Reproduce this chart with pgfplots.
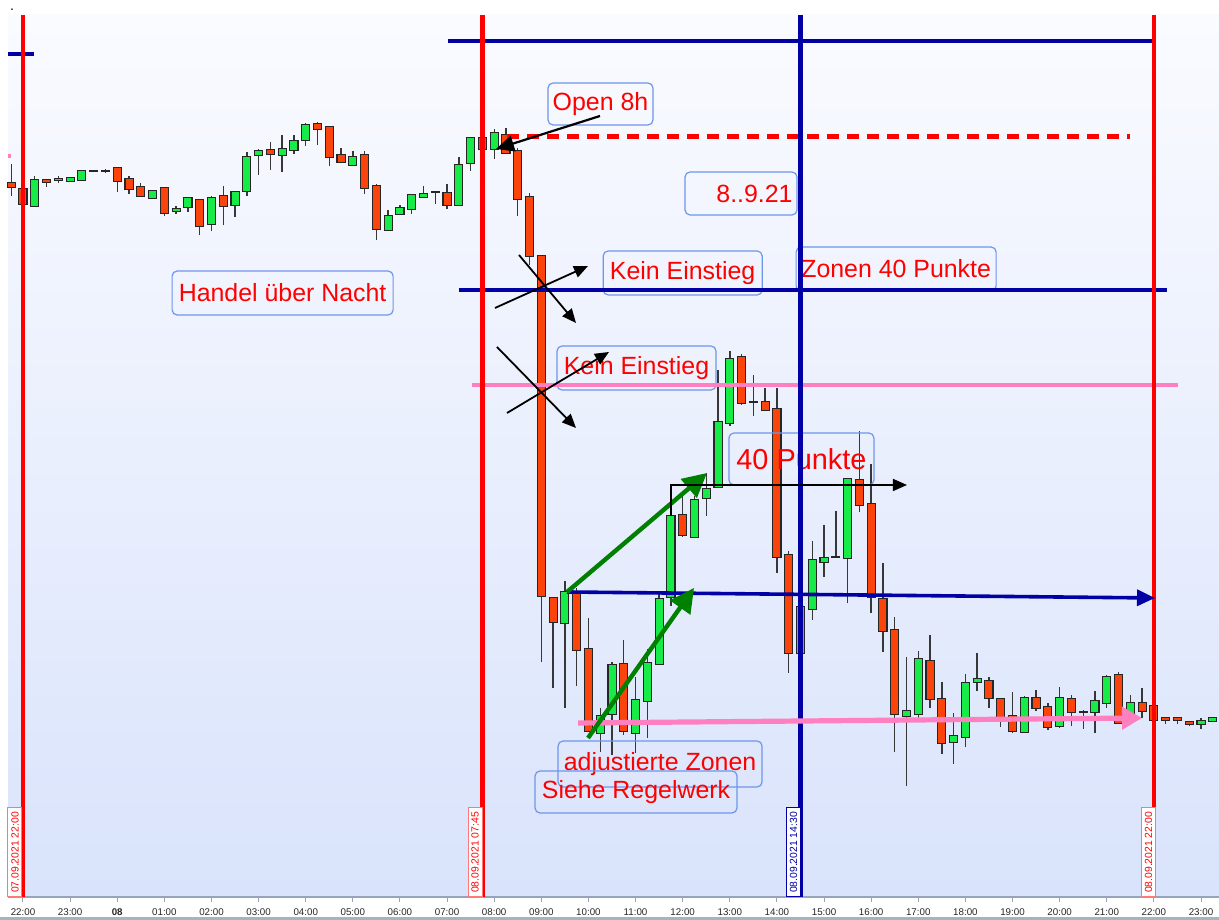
\documentclass[border=0pt]{standalone}
\usepackage{pgfplots}
\pgfplotsset{compat=1.18}
\usepackage{pgfplotstable}
\usepackage{fontspec}
\setmainfont{Liberation Sans}
\usetikzlibrary{arrows.meta}
\definecolor{cred}{RGB}{250,68,12}
\definecolor{cgreen}{RGB}{22,235,72}
\definecolor{wick}{RGB}{55,55,55}
\definecolor{lred}{RGB}{255,0,0}
\definecolor{lblue}{RGB}{0,0,165}
\definecolor{lpink}{RGB}{255,128,192}
\definecolor{boxc}{RGB}{110,150,235}
\definecolor{darkg}{RGB}{0,128,0}
\definecolor{bgtop}{RGB}{250,251,255}
\definecolor{bgbot}{RGB}{217,227,251}
\definecolor{axc}{RGB}{150,165,185}
\definecolor{dredb}{RGB}{255,120,120}
\definecolor{barc}{RGB}{165,180,195}

% candles: t = hours since 07.09.2021 00:00, o h l c = chart height (pixels from top)
\pgfplotstableread{
t o h l c
22.25 206 176 207 180
22.75 180 176 183 179
23.0 181 178 182 178
23.25 180 170 181 171
23.5 171 170 172 171
23.75 171 169 173 171
24.75 198 191 199 191
25.25 211 206 214 209
25.5 207 198 212 198
26.0 224 196 231 198
26.5 205 192 217 192
26.75 191 152 196 157
27.0 155 149 175 151
27.5 155 135 172 149
27.75 150 135 154 141
28.0 140 123 146 125
29.0 165 151 166 157
29.75 230 210 231 216
30.0 214 205 215 208
30.25 209 195 214 195
30.5 197 186 198 194
30.75 192 191 204 192
31.25 205 157 206 165
31.5 163 137 171 138
32.0 149 129 159 133
33.5 623 581 708 592
34.25 733 708 752 716
34.5 714 662 755 665
35.0 733 677 753 700
35.25 701 649 738 663
35.5 664 594 665 599
35.75 597 515 606 516
36.25 537 496 538 500
36.5 498 473 516 489
36.75 487 370 488 422
37.0 423 351 426 359
37.5 402 375 416 402
38.5 653 600 655 607
38.75 609 541 620 560
39.0 562 525 577 558
39.25 557 511 558 557
39.5 558 478 603 479
40.75 716 657 786 711
41.0 714 651 719 659
41.75 742 713 764 736
42.0 737 674 747 683
42.25 682 653 691 679
43.25 732 696 733 698
44.0 726 687 728 698
44.5 712 710 729 712
44.75 712 691 733 701
45.0 703 675 708 677
45.5 715 695 716 703
47.0 724 718 729 721
47.25 721 718 722 718
}\greentab

\pgfplotstableread{
t o h l c
21.75 183 164 196 187
22.0 189 188 205 204
22.5 180 179 187 182
24.0 168 167 192 181
24.25 179 176 194 189
24.5 187 183 197 196
25.0 188 187 216 213
25.75 200 199 235 226
26.25 196 186 225 206
27.25 150 142 170 154
28.25 124 122 145 129
28.5 127 126 166 157
28.75 155 148 162 162
29.25 155 151 194 188
29.5 186 184 240 229
31.0 193 184 209 205
31.75 138 137 150 149
32.25 135 128 154 153
32.5 151 148 216 199
32.75 197 193 265 256
33.0 256 255 662 596
33.25 598 597 688 622
33.75 592 588 686 650
34.0 649 618 731 731
34.75 664 640 735 731
36.0 515 496 537 535
37.25 357 354 405 403
37.75 402 388 411 410
38.0 409 388 573 557
38.25 555 551 673 653
39.75 480 431 512 505
40.0 504 464 613 597
40.25 599 563 652 631
40.5 630 617 752 714
41.25 661 635 708 699
41.5 699 682 754 743
42.5 681 677 708 698
42.75 699 698 727 717
43.0 716 692 733 731
43.5 698 690 711 708
43.75 707 703 730 727
44.25 699 695 726 712
45.25 675 672 723 723
45.75 703 688 718 711
46.0 706 705 720 720
46.25 718 718 724 720
46.5 718 718 724 720
46.75 722 722 726 724
}\redtab

\tikzset{
  lbl/.style={draw=boxc, line width=0.6bp, rounded corners=2.5bp, text=lred,
    font=\fontsize{12.5}{15}\selectfont, inner sep=0pt},
  blk/.style={black, line width=0.9bp, -{Triangle[length=7bp,width=6bp]}},
  datel/.style={rotate=90, fill=white, line width=0.5bp, inner sep=0pt,
    minimum width=44.5bp, minimum height=7bp, font=\fontsize{5.2}{6}\selectfont},
}
\pgfplotsset{
  candle/.style n args={2}{draw=none, mark=none, forget plot,
    error bars/.cd, y dir=both, y explicit, error mark=none,
    error bar style={line width=#1, draw=#2}},
}

\begin{document}
\begin{tikzpicture}
\begin{axis}[
  scale only axis, width=605.5bp, height=441bp,
  xmin=21.682, xmax=47.382, ymin=-897, ymax=-15,
  axis x line*=bottom, axis y line=none,
  axis line style={draw=axc, line width=0.7bp},
  xtick={22,...,47},
  xticklabels={22:00,23:00,\textbf{08},01:00,02:00,03:00,04:00,05:00,06:00,07:00,08:00,09:00,10:00,11:00,12:00,13:00,14:00,15:00,16:00,17:00,18:00,19:00,20:00,21:00,22:00,23:00},
  x tick label style={font=\fontsize{4.9}{5}\selectfont, text=black!85},
  tick align=outside, major tick length=2.5bp,
  xtick style={draw=axc, line width=0.5bp},
  ytick=\empty,
  axis background/.style={shade, top color=bgtop, bottom color=bgbot},
  clip=false,
]
% wicks
\addplot[candle={0.7bp}{wick}]
  table[x=t, y expr={-(\thisrow{h}+\thisrow{l})/2}, y error expr={(\thisrow{l}-\thisrow{h})/2}] {\greentab};
\addplot[candle={0.7bp}{wick}]
  table[x=t, y expr={-(\thisrow{h}+\thisrow{l})/2}, y error expr={(\thisrow{l}-\thisrow{h})/2}] {\redtab};
% body borders
\addplot[candle={4.6bp}{black!85}]
  table[x=t, y expr={-(\thisrow{o}+\thisrow{c})/2}, y error expr={abs(\thisrow{o}-\thisrow{c})/2+1}] {\greentab};
\addplot[candle={4.6bp}{black!85}]
  table[x=t, y expr={-(\thisrow{o}+\thisrow{c})/2}, y error expr={abs(\thisrow{o}-\thisrow{c})/2+1}] {\redtab};
% bodies
\addplot[candle={3.5bp}{cgreen}]
  table[x=t, y expr={-(\thisrow{o}+\thisrow{c})/2}, y error expr={abs(\thisrow{o}-\thisrow{c})/2}] {\greentab};
\addplot[candle={3.5bp}{cred}]
  table[x=t, y expr={-(\thisrow{o}+\thisrow{c})/2}, y error expr={abs(\thisrow{o}-\thisrow{c})/2}] {\redtab};

% text boxes
\node[lbl, minimum width=52.5bp, minimum height=21bp] at (axis cs:34.256,-104) {Open 8h};
\node[lbl, minimum width=56bp, minimum height=21.5bp] at (axis cs:37.238,-193.5) {};
\node[text=lred, font=\fontsize{12.5}{15}\selectfont, anchor=east, inner sep=0pt] at (axis cs:38.341,-193.5) {8..9.21};
\node[lbl, minimum width=79.5bp, minimum height=22bp] at (axis cs:36.00,-273) {Kein Einstieg};
\node[lbl, minimum width=100bp, minimum height=22bp] at (axis cs:40.53,-269) {Zonen 40 Punkte};
\node[lbl, minimum width=110.5bp, minimum height=22bp] at (axis cs:27.51,-293) {Handel über Nacht};
\node[lbl, minimum width=79.5bp, minimum height=22bp] at (axis cs:35.02,-368) {Kein Einstieg};
\node[lbl, minimum width=72.5bp, minimum height=26bp, font=\fontsize{14.5}{17}\selectfont] at (axis cs:38.52,-459) {40 Punkte};
\node[lbl, minimum width=102bp, minimum height=23bp] at (axis cs:35.52,-764) {adjustierte Zonen};
\node[lbl, minimum width=101bp, minimum height=21bp] at (axis cs:35.01,-792) {Siehe Regelwerk};

% horizontal lines
\draw[lblue, line width=1.8bp] (axis cs:31.019,-41) -- (axis cs:46.024,-41);
\draw[lblue, line width=1.8bp] (axis cs:21.682,-54) -- (axis cs:22.234,-54);
\draw[lblue, line width=1.8bp] (axis cs:31.253,-290) -- (axis cs:46.278,-290);
\draw[lpink, line width=1.8bp] (axis cs:31.529,-385) -- (axis cs:46.512,-385);
\draw[lpink, line width=2bp] (axis cs:21.682,-156) -- (axis cs:21.745,-156);
\draw[lred, line width=2.5bp, dash pattern=on 6bp off 4bp] (axis cs:32.272,-137) -- (axis cs:45.493,-137);

% vertical lines
\draw[lred, line width=2.3bp] (axis cs:22,-15) -- (axis cs:22,-897);
\draw[lred, line width=2.3bp] (axis cs:31.75,-15) -- (axis cs:31.75,-897);
\draw[lblue, line width=2.2bp] (axis cs:38.5,-15) -- (axis cs:38.5,-897);
\draw[lred, line width=2.3bp] (axis cs:46,-15) -- (axis cs:46,-897);

% date labels
\node[datel, draw=dredb, text=lred] at (axis cs:21.830,-852.5) {07.09.2021 22:00};
\node[datel, draw=dredb, text=lred] at (axis cs:31.593,-852.5) {08.09.2021 07:45};
\node[datel, draw=lblue, text=lblue] at (axis cs:38.352,-852.5) {08.09.2021 14:30};
\node[datel, draw=dredb, text=lred] at (axis cs:45.886,-852.5) {08.09.2021 22:00};

% arrows
\draw[lblue, line width=1.8bp, -{Triangle[length=9bp,width=8bp]}] (axis cs:33.545,-592) -- (axis cs:46.024,-598);
\draw[lpink, line width=2.6bp, -{Triangle[length=10bp,width=11bp]}] (axis cs:33.779,-723) -- (axis cs:45.748,-718);
\draw[darkg, line width=2.2bp, -{Triangle[length=12bp,width=12bp]}] (axis cs:33.545,-592) -- (axis cs:36.516,-473);
\draw[darkg, line width=2.2bp, -{Triangle[length=12bp,width=12bp]}] (axis cs:33.991,-738) -- (axis cs:36.240,-588);
\draw[blk] (axis cs:32.526,-255) -- (axis cs:33.736,-323);
\draw[blk] (axis cs:32.017,-308) -- (axis cs:33.991,-266);
\draw[blk] (axis cs:32.059,-347) -- (axis cs:33.736,-428);
\draw[blk] (axis cs:32.272,-413) -- (axis cs:34.436,-352);
\draw[black, line width=1.1bp, -{Triangle[length=9bp,width=8bp]}] (axis cs:34.245,-116) -- (axis cs:32.038,-149);
\draw[black, line width=0.8bp, -{Triangle[length=7bp,width=6bp]}] (axis cs:35.752,-516) -- (axis cs:35.752,-485) -- (axis cs:40.760,-485);

% bottom bar and dot
\fill[barc] (axis cs:21.5119,-917) rectangle (axis cs:47.382,-920);
\node[font=\fontsize{7}{7}\selectfont, inner sep=0pt, text height=1bp, text depth=0pt, anchor=base] at (axis cs:21.767,-11) {.};

\coordinate (BL) at (axis cs:21.5119,-920);
\coordinate (TR) at (axis cs:47.382,0);
\end{axis}
\pgfresetboundingbox
\path[use as bounding box] (BL) rectangle (TR);
\end{tikzpicture}
\end{document}
